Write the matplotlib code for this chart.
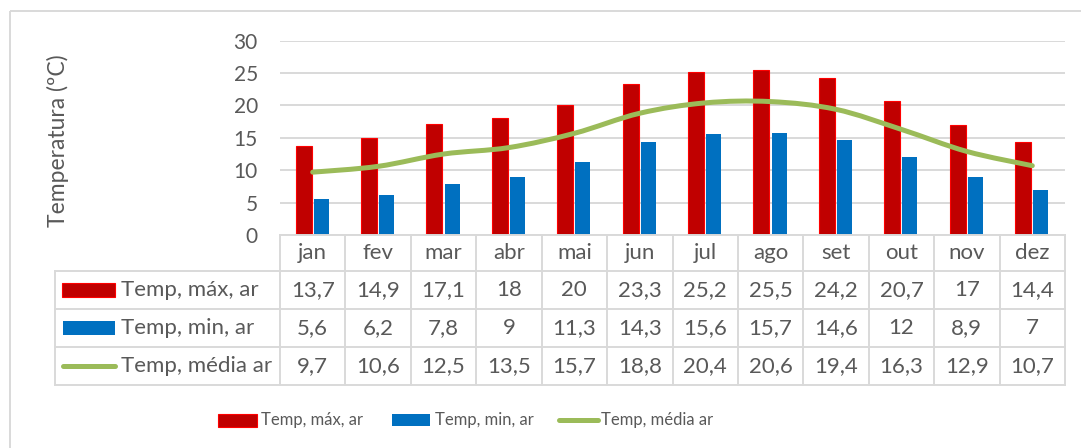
import numpy as np
import matplotlib.pyplot as plt
from matplotlib.path import Path
from matplotlib.patches import PathPatch, Rectangle

plt.rcParams["font.family"] = ["Lato", "DejaVu Sans"]

# data
months = ["jan", "fev", "mar", "abr", "mai", "jun", "jul", "ago", "set", "out", "nov", "dez"]
t_max = [13.7, 14.9, 17.1, 18, 20, 23.3, 25.2, 25.5, 24.2, 20.7, 17, 14.4]
t_min = [5.6, 6.2, 7.8, 9, 11.3, 14.3, 15.6, 15.7, 14.6, 12, 8.9, 7]
t_avg = [9.7, 10.6, 12.5, 13.5, 15.7, 18.8, 20.4, 20.6, 19.4, 16.3, 12.9, 10.7]
names = ["Temp, máx, ar", "Temp, min, ar", "Temp, média ar"]

RED, RED_EDGE, BLUE, GREEN = "#C00000", "#FF0000", "#0070C0", "#9BBB59"
GRID, TXT = "#D9D9D9", "#595959"

W, H = 1081, 448
fig = plt.figure(figsize=(W / 100, H / 100), dpi=100)

# plot area in pixels
x0, x1, y_top, y_zero = 280, 1065, 40.7, 235
ax = fig.add_axes([x0 / W, 1 - y_zero / H, (x1 - x0) / W, (y_zero - y_top) / H])
x = np.arange(len(months))
ax.bar(x - 0.14, t_max, width=0.245, color=RED, edgecolor=RED_EDGE, linewidth=0.8, zorder=2)
ax.bar(x + 0.13, t_min, width=0.23, color=BLUE, zorder=2)


def smooth_path(xs, ys):
    # Excel-style smoothed line: cubic bezier segments through the points
    pts = np.column_stack([xs, ys]).astype(float)
    verts = [pts[0]]
    codes = [Path.MOVETO]
    n = len(pts)
    for i in range(n - 1):
        p0 = pts[max(i - 1, 0)]
        p1, p2 = pts[i], pts[i + 1]
        p3 = pts[min(i + 2, n - 1)]
        c1 = p1 + (p2 - p0) / 6
        c2 = p2 - (p3 - p1) / 6
        verts += [c1, c2, p2]
        codes += [Path.CURVE4] * 3
    return Path(verts, codes)


ax.add_patch(PathPatch(smooth_path(x, t_avg), facecolor="none", edgecolor=GREEN,
                       linewidth=3.6, capstyle="round", joinstyle="round", zorder=3))

ax.set_xlim(-0.5, len(months) - 0.5)
ax.set_ylim(0, 30)
ax.set_yticks(range(0, 31, 5))
ax.set_xticks([])
ax.yaxis.grid(True, color=GRID, linewidth=1.4)
ax.set_axisbelow(True)
for s in ax.spines.values():
    s.set_visible(False)
ax.tick_params(axis="y", length=0, pad=16, labelsize=15, labelcolor=TXT)

fig.text(58 / W, 1 - 141 / H, "Temperatura (ºC)", rotation=90, ha="center", va="center",
         fontsize=16.5, color=TXT)

# overlay in pixel coordinates for data table, legend and frame
ov = fig.add_axes([0, 0, 1, 1])
ov.set_xlim(0, W)
ov.set_ylim(H, 0)
ov.axis("off")

ov.add_patch(Rectangle((9.5, 11.5), 1300, 700, fill=False, edgecolor=GRID, linewidth=1.4))

cw = (x1 - x0) / len(months)
rows = [235, 271.5, 309.5, 347.5, 385.5]
lab_x = 55
lw = 1.4
ov.plot([x0, x1], [rows[0], rows[0]], color=GRID, lw=lw)
for r in rows[1:]:
    ov.plot([lab_x, x1], [r, r], color=GRID, lw=lw)
ov.plot([lab_x, lab_x], [rows[1], rows[-1]], color=GRID, lw=lw)
for i in range(len(months) + 1):
    ov.plot([x0 + i * cw] * 2, [rows[0], rows[-1]], color=GRID, lw=lw)


def fmt(v):
    s = f"{v:g}"
    return s.replace(".", ",")


for i, m in enumerate(months):
    cx = x0 + (i + 0.5) * cw
    ov.text(cx, (rows[0] + rows[1]) / 2, m, ha="center", va="center", fontsize=16, color=TXT)
    for j, vals in enumerate([t_max, t_min, t_avg]):
        ov.text(cx, (rows[j + 1] + rows[j + 2]) / 2, fmt(vals[i]), ha="center", va="center",
                fontsize=16, color=TXT)

# legend keys inside table
ry = [(rows[1] + rows[2]) / 2, (rows[2] + rows[3]) / 2, (rows[3] + rows[4]) / 2]
ov.add_patch(Rectangle((62, ry[0] - 7), 53, 14, facecolor=RED, edgecolor=RED_EDGE, lw=0.8))
ov.add_patch(Rectangle((63, ry[1] - 7), 52, 14, facecolor=BLUE, edgecolor="none"))
ov.plot([63, 115], [ry[2], ry[2]], color=GREEN, lw=3.6, solid_capstyle="round")
for j in range(3):
    ov.text(121, ry[j], names[j], ha="left", va="center", fontsize=16, color=TXT)

# bottom legend
ly = 420.5
ov.add_patch(Rectangle((218, ly - 6.5), 39, 13, facecolor=RED, edgecolor=RED_EDGE, lw=0.8))
ov.add_patch(Rectangle((392, ly - 6), 38, 12, facecolor=BLUE, edgecolor="none"))
ov.plot([559, 598], [ly, ly], color=GREEN, lw=3.6, solid_capstyle="round")
for lx, name in zip([261, 435, 601], names):
    ov.text(lx, ly, name, ha="left", va="center", fontsize=12, color=TXT)

fig.savefig("out.png", dpi=100)
